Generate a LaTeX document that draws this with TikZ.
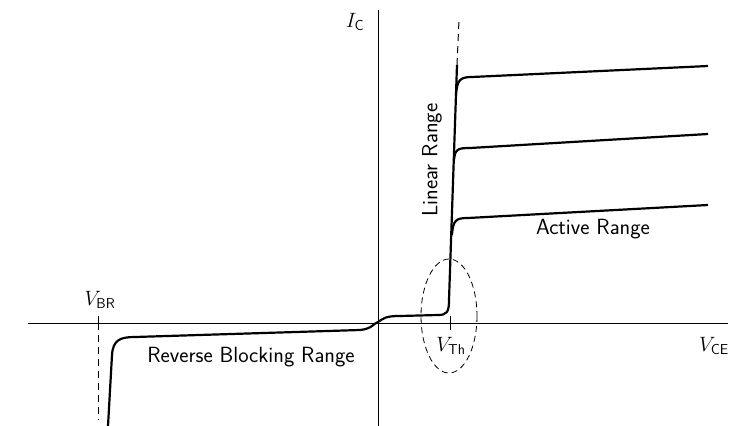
\documentclass[tikz,border=0pt]{standalone}
\usepackage{amsmath}
\usetikzlibrary{positioning}
\begin{document}
\begin{tikzpicture}[x=1pt,y=-1pt,
  every node/.style={font=\sffamily\fontsize{22}{24}\selectfont},
  curve/.style={line width=2.2pt},
  guide/.style={dash pattern=on 7pt off 5pt,line width=1pt}]
\useasboundingbox (0,0) rectangle (748,426);
%axes
\draw[line width=0.9pt] (28,323) -- (728,323);
\draw[line width=0.9pt] (378,10) -- (378,426);
\draw[line width=0.9pt] (98,316) -- (98,330);
\draw[line width=0.9pt] (450,316) -- (450,330);

%curves
\draw[curve] (108,426) -- (112,355) .. controls (113,340) and (120,337) .. (135,337)
  -- (360,330) .. controls (372,329) and (374,323) .. (378,322)
  .. controls (384,318) and (386,316) .. (400,316) -- (438,315)
  .. controls (447,315) and (449,312) .. (449,300) -- (457,65);
\draw[curve] (452,235) .. controls (453,220) and (456,218) .. (468,218) -- (708,205);
\draw[curve] (454,160) .. controls (455,149) and (458,148) .. (470,148) -- (708,134);
\draw[curve] (456,95) .. controls (457,80) and (460,77) .. (472,77) -- (708,66);
\draw[guide] (457,65) -- (459,20);
\draw[guide] (98,323) -- (98,420);
\draw[dash pattern=on 6pt off 4pt,line width=0.8pt] (449,316) ellipse [x radius=28, y radius=57];

%labels
\node (ic) at (355,22) {$I_{\mathsf{C}}$};
\node (vce) at (714,346) {$V_{\mathsf{CE}}$};
\node (vbr) at (100,300) {$V_{\mathsf{BR}}$};
\node (vth) at (451,346) {$V_{\mathsf{Th}}$};
\node[rotate=90] (lin) at (432,160) {Linear Range};
\node (act) at (593,229) {Active Range};
\node (rev) at (251,357) {Reverse Blocking Range};
\end{tikzpicture}
\end{document}
